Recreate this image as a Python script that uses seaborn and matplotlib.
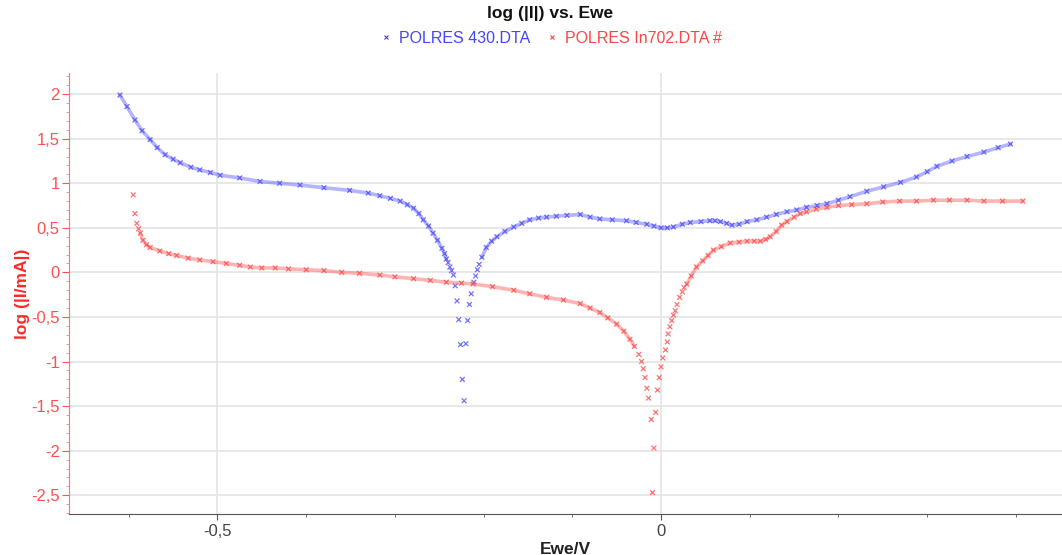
import seaborn as sns
import matplotlib.pyplot as plt
import matplotlib.ticker as mticker
import pandas as pd

# POLRES 430.DTA - three branches (dense left, sparse dip, dense right)
blue_left_x = [-0.610, -0.602, -0.593, -0.585, -0.576, -0.568, -0.559, -0.550, -0.542, -0.530,
               -0.520, -0.508, -0.497, -0.475, -0.452, -0.430, -0.407, -0.380, -0.351, -0.330,
               -0.317, -0.305, -0.294, -0.286, -0.279, -0.273, -0.268, -0.262, -0.257, -0.252,
               -0.247, -0.244, -0.242]
blue_left_y = [1.99, 1.86, 1.71, 1.59, 1.49, 1.40, 1.32, 1.27, 1.23, 1.18,
               1.15, 1.12, 1.09, 1.06, 1.02, 1.00, 0.98, 0.95, 0.92, 0.89,
               0.86, 0.83, 0.80, 0.76, 0.72, 0.66, 0.59, 0.52, 0.44, 0.36,
               0.27, 0.21, 0.15]
blue_dip_x = [-0.240, -0.238, -0.236, -0.234, -0.232, -0.230, -0.228, -0.226, -0.224, -0.222,
              -0.220, -0.218, -0.216, -0.214, -0.211, -0.209, -0.207, -0.205]
blue_dip_y = [0.11, 0.06, 0.02, -0.03, -0.15, -0.32, -0.53, -0.81, -1.20, -1.44,
              -0.80, -0.54, -0.36, -0.24, -0.11, -0.04, 0.03, 0.09]
blue_right_x = [-0.202, -0.197, -0.191, -0.185, -0.176, -0.166, -0.157, -0.148, -0.138, -0.129,
                -0.118, -0.106, -0.091, -0.080, -0.069, -0.055, -0.039, -0.028, -0.016, -0.008,
                0.000, 0.007, 0.014, 0.024, 0.033, 0.045, 0.055, 0.061, 0.067, 0.074,
                0.080, 0.088, 0.097, 0.108, 0.119, 0.130, 0.142, 0.153, 0.164, 0.176,
                0.187, 0.200, 0.213, 0.232, 0.251, 0.270, 0.288, 0.300, 0.311, 0.328,
                0.345, 0.364, 0.380, 0.394]
blue_right_y = [0.17, 0.28, 0.35, 0.40, 0.46, 0.51, 0.55, 0.59, 0.61, 0.62,
                0.63, 0.64, 0.65, 0.62, 0.60, 0.59, 0.58, 0.56, 0.54, 0.52,
                0.50, 0.50, 0.51, 0.54, 0.56, 0.57, 0.58, 0.58, 0.57, 0.55,
                0.53, 0.54, 0.57, 0.59, 0.62, 0.65, 0.68, 0.70, 0.73, 0.75,
                0.77, 0.81, 0.85, 0.91, 0.96, 1.01, 1.07, 1.13, 1.19, 1.25,
                1.30, 1.35, 1.40, 1.44]

# POLRES In702.DTA #
red_start_x = [-0.595, -0.593, -0.591, -0.589]
red_start_y = [0.87, 0.66, 0.55, 0.49]
red_left_x = [-0.587, -0.584, -0.580, -0.576, -0.565, -0.555, -0.546, -0.533, -0.520, -0.505,
              -0.490, -0.475, -0.463, -0.450, -0.435, -0.420, -0.400, -0.380, -0.360, -0.340,
              -0.317, -0.300, -0.279, -0.260, -0.242, -0.225, -0.212, -0.190, -0.166, -0.148,
              -0.129, -0.110, -0.091, -0.080, -0.069, -0.060, -0.050, -0.042, -0.035, -0.030]
red_left_y = [0.44, 0.36, 0.31, 0.28, 0.24, 0.21, 0.19, 0.16, 0.14, 0.12,
              0.10, 0.08, 0.06, 0.05, 0.05, 0.04, 0.03, 0.02, 0.00, -0.01,
              -0.03, -0.05, -0.07, -0.09, -0.11, -0.12, -0.13, -0.16, -0.20, -0.24,
              -0.28, -0.31, -0.35, -0.40, -0.45, -0.51, -0.58, -0.66, -0.75, -0.83]
red_dip_x = [-0.025, -0.022, -0.020, -0.018, -0.016, -0.014, -0.011, -0.008, -0.0097,
             -0.006, -0.004, -0.002, 0.000, 0.002, 0.005, 0.007, 0.008, 0.010, 0.012,
             0.014, 0.016, 0.018, 0.021, 0.024, 0.026]
red_dip_y = [-0.92, -1.00, -1.08, -1.18, -1.30, -1.41, -1.65, -1.97, -2.47,
             -1.57, -1.32, -1.18, -1.06, -0.96, -0.87, -0.78, -0.69, -0.61, -0.54,
             -0.48, -0.43, -0.36, -0.28, -0.22, -0.17]
red_right_x = [0.029, 0.034, 0.040, 0.047, 0.053, 0.059, 0.068, 0.078, 0.088, 0.097,
               0.105, 0.112, 0.118, 0.123, 0.130, 0.136, 0.142, 0.150, 0.157, 0.164,
               0.175, 0.187, 0.200, 0.215, 0.232, 0.250, 0.269, 0.288, 0.307, 0.325,
               0.345, 0.364, 0.385, 0.408]
red_right_y = [-0.13, -0.04, 0.06, 0.13, 0.19, 0.25, 0.29, 0.33, 0.34, 0.35,
               0.35, 0.35, 0.37, 0.40, 0.46, 0.53, 0.57, 0.62, 0.66, 0.68,
               0.71, 0.73, 0.75, 0.76, 0.77, 0.79, 0.80, 0.80, 0.81, 0.81,
               0.81, 0.80, 0.80, 0.80]

names = ['POLRES 430.DTA', 'POLRES In702.DTA #']
colors = {names[0]: '#4444ff', names[1]: '#ff4444'}


def branch_df(series, branch, xs, ys):
    return pd.DataFrame({'Ewe': xs, 'logI': ys, 'series': series, 'branch': branch})


df = pd.concat([
    branch_df(names[0], 'left', blue_left_x, blue_left_y),
    branch_df(names[0], 'dip', blue_dip_x, blue_dip_y),
    branch_df(names[0], 'right', blue_right_x, blue_right_y),
    branch_df(names[1], 'start', red_start_x, red_start_y),
    branch_df(names[1], 'left', red_left_x, red_left_y),
    branch_df(names[1], 'dip', red_dip_x, red_dip_y),
    branch_df(names[1], 'right', red_right_x, red_right_y),
], ignore_index=True)
dense = df[~df['branch'].isin(['dip', 'start'])]

sns.set_style('white')
plt.rcParams['font.family'] = ['Liberation Sans', 'DejaVu Sans']

fig = plt.figure(figsize=(10.62, 5.55), dpi=100)
ax = fig.add_axes([0.0653, 0.0733, 0.9347, 0.795])

# dense parts look like continuous traces of crosses
for name in names:
    sub = dense[dense['series'] == name]
    sns.lineplot(data=sub, x='Ewe', y='logI', units='branch', estimator=None, sort=False,
                 color=colors[name], lw=2.6, alpha=0.4, ax=ax, legend=False)
sns.scatterplot(data=df, x='Ewe', y='logI', hue='series', palette=colors, marker='x',
                s=12, linewidth=0.9, alpha=0.75, ax=ax, legend=False)

ax.set_xlim(-0.667, 0.452)
ax.set_ylim(-2.714, 2.236)
ax.xaxis.set_major_locator(mticker.MultipleLocator(0.5))
ax.xaxis.set_minor_locator(mticker.MultipleLocator(0.1))
ax.yaxis.set_major_locator(mticker.MultipleLocator(0.5))
ax.yaxis.set_minor_locator(mticker.MultipleLocator(0.1))
comma = mticker.FuncFormatter(lambda v, p: '{:g}'.format(round(v, 3)).replace('.', ','))
ax.xaxis.set_major_formatter(comma)
ax.yaxis.set_major_formatter(comma)

ax.grid(True, which='major', color='#e4e4e4', lw=1.2)
ax.set_axisbelow(True)
for s in ['top', 'right']:
    ax.spines[s].set_visible(False)
ax.spines['left'].set_color('#ff7070')
ax.spines['bottom'].set_color('#555555')

ax.tick_params(axis='y', which='major', colors='#ff5050', labelsize=12, length=5, direction='out',
               left=True, pad=2)
ax.tick_params(axis='y', which='minor', colors='#ff8080', length=2, direction='out', left=True)
ax.tick_params(axis='x', which='major', colors='#555555', labelcolor='#444444', labelsize=12, length=4,
               direction='out', bottom=True, pad=3)
ax.tick_params(axis='x', which='minor', colors='#555555', length=2, direction='out', bottom=True)

ax.set_xlabel('Ewe/V', fontsize=12.5, fontweight='bold', color='#222222', labelpad=2)
ax.set_ylabel('log (|I/mA|)', fontsize=12.5, fontweight='bold', color='#ff2a2a')
ax.yaxis.set_label_coords(-0.040, 0.5)

fig.text(0.518, 0.976, 'log (|I|) vs. Ewe', ha='center', va='center', fontsize=12.5,
         fontweight='bold', color='#111111')

handles = [plt.Line2D([], [], ls='none', marker='x', ms=3, mew=0.8, color=colors[n]) for n in names]
fig.legend(handles, names, loc='center', bbox_to_anchor=(0.518, 0.931), ncol=2, frameon=False,
           fontsize=11.5, labelcolor=[colors[n] for n in names], handletextpad=0.3,
           columnspacing=0.9, handlelength=1.0)

fig.savefig('out.png', dpi=100, facecolor='white')
